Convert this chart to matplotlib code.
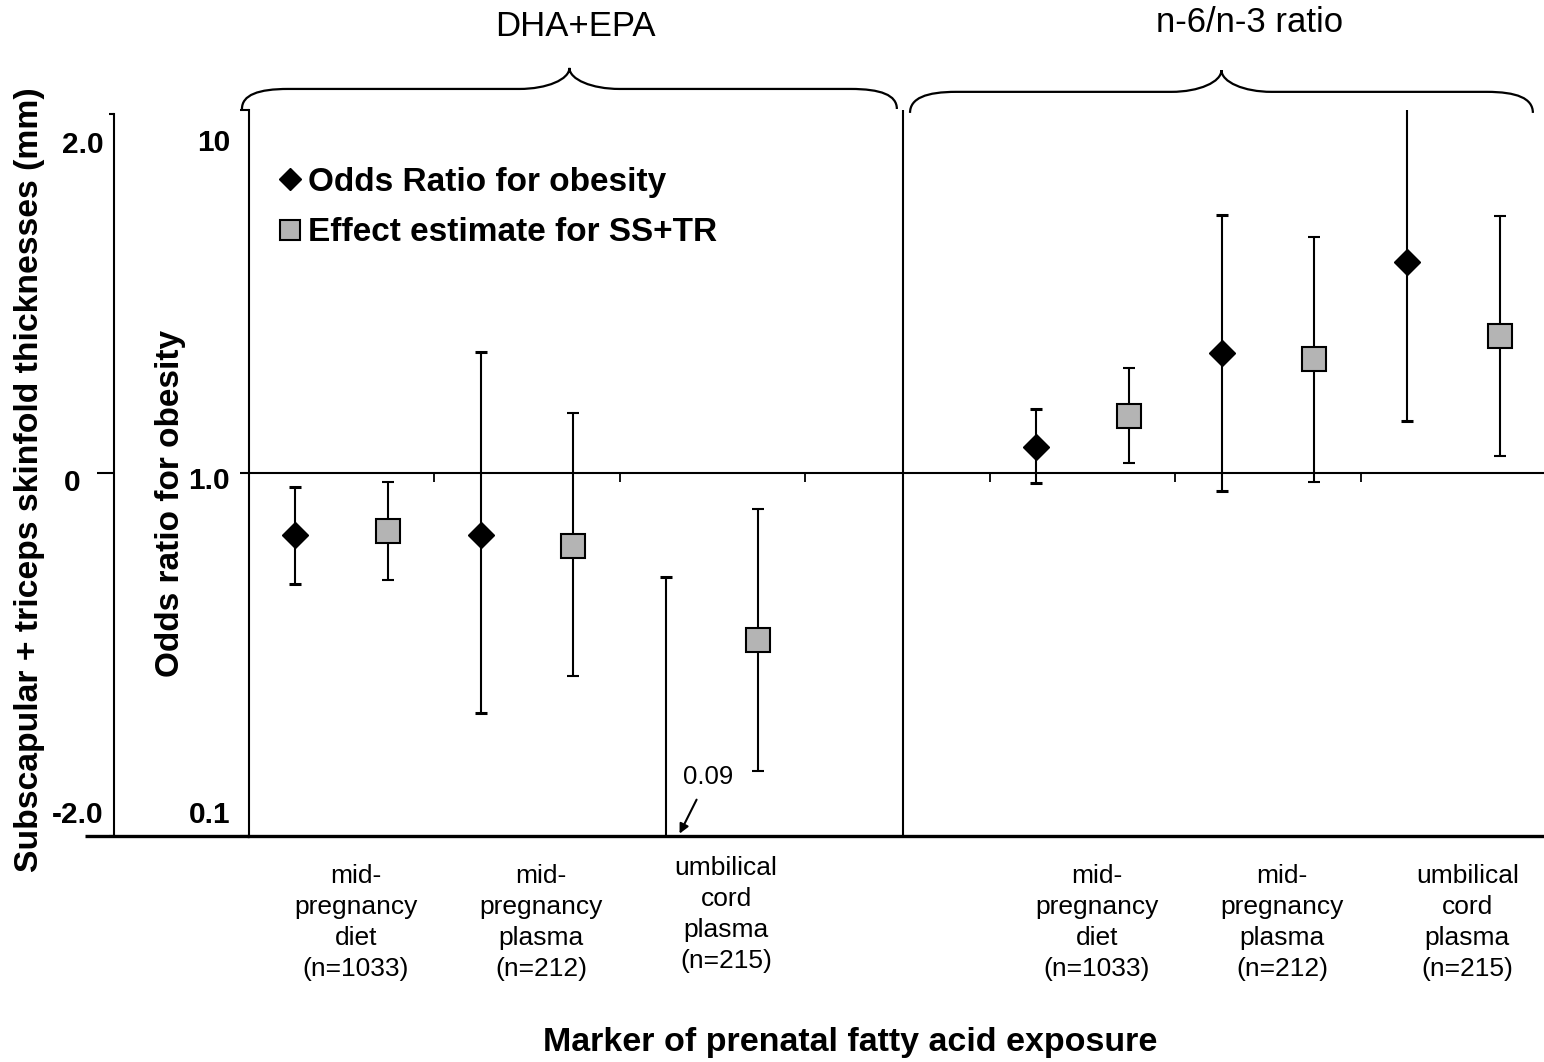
import numpy as np
import matplotlib
matplotlib.use("Agg")
import matplotlib.pyplot as plt
from matplotlib.lines import Line2D
from matplotlib.path import Path
from matplotlib.patches import PathPatch
from matplotlib.transforms import ScaledTranslation, blended_transform_factory
from matplotlib.ticker import NullLocator, NullFormatter

plt.rcParams['font.family'] = ['Liberation Sans', 'DejaVu Sans']

W, H = 1544, 1062

# categories (index 3 is the empty gap between the two groups)
cat_labels = [
    "mid-\npregnancy\ndiet\n(n=1033)",
    "mid-\npregnancy\nplasma\n(n=212)",
    "umbilical\ncord\nplasma\n(n=215)",
    "",
    "mid-\npregnancy\ndiet\n(n=1033)",
    "mid-\npregnancy\nplasma\n(n=212)",
    "umbilical\ncord\nplasma\n(n=215)",
]
group_names = ["DHA+EPA", "n-6/n-3 ratio"]
data_cats = np.array([0, 1, 2, 4, 5, 6])

# odds ratio for obesity (log axis); nan = point estimate not shown
or_est = np.array([0.675, 0.675, np.nan, 1.18, 2.14, 3.81])
or_lo = np.array([0.495, 0.218, 0.09, 0.939, 0.892, 1.39])
or_hi = np.array([0.915, 2.15, 0.517, 1.50, 5.14, 10.8])

# effect estimate for SS+TR (mm)
ss_est = np.array([-0.32, -0.40, -0.92, 0.314, 0.628, 0.755])
ss_lo = np.array([-0.59, -1.12, -1.64, 0.055, -0.05, 0.094])
ss_hi = np.array([-0.05, 0.33, -0.20, 0.578, 1.30, 1.416])

BOLD = 24
TICK = 21.5

fig = plt.figure(figsize=(W / 100, H / 100), dpi=100)
ax = fig.add_axes([249 / W, 1 - 836 / H, (W - 249) / W, (836 - 110) / H])


def px(dx, dy):
    # offset in pixels, dy positive downward
    return ScaledTranslation(dx / 100, -dy / 100, fig.dpi_scale_trans)


# odds ratio series
x_or = data_cats - 0.25
ax.errorbar(x_or, or_hi, yerr=[or_hi - or_lo, np.zeros_like(or_hi)], fmt='none',
            ecolor='black', elinewidth=1.5, capsize=4.5, capthick=2.2)
ax.plot(x_or, or_est, 'D', color='black', markersize=13, ls='none')

ax.set_yscale('log')
ax.set_ylim(0.1, 10)
ax.set_xlim(-0.5, 6.49)
ax.yaxis.set_minor_locator(NullLocator())
ax.yaxis.set_minor_formatter(NullFormatter())
ax.set_yticks([0.1, 1, 10])
ax.set_yticklabels(['0.1', '1.0', '10'])
ax.tick_params(axis='y', direction='out', length=6.5, width=1.5, pad=7,
               labelsize=TICK)

ax.set_xticks(range(len(cat_labels)))
ax.set_xticklabels(cat_labels)
ax.tick_params(axis='x', which='major', length=0, pad=20, top=False, bottom=True,
               labelsize=19)
ax.set_xticks([0.5, 1.5, 2.5, 3.5, 4.5, 5.5], minor=True)
ax.tick_params(axis='x', which='minor', bottom=False, top=True, direction='in',
               length=6.5, width=1.3)

ax.spines['right'].set_visible(False)
ax.spines['top'].set_position(('data', 1.0))
ax.spines['top'].set_linewidth(1.5)
ax.spines['left'].set_linewidth(1.5)
ax.spines['bottom'].set_linewidth(2.4)
ax.plot([(85 - 249) / (W - 249), 0], [0, 0], color='black', lw=2.4,
        transform=ax.transAxes, clip_on=False, solid_capstyle='butt')

# divider between the two groups
ax.axvline(3.03, color='black', lw=1.5)

# skinfold effect axis
ax_ss = ax.twinx()
x_ss = data_cats + 0.25
ax_ss.errorbar(x_ss, ss_est, yerr=[ss_est - ss_lo, ss_hi - ss_est], fmt='s',
               markersize=17, mfc='#b4b4b4', mec='black', mew=1.5,
               ecolor='black', elinewidth=1.5, capsize=4.5, capthick=2.2)
ax_ss.set_ylim(-2, 2)
for s in ['top', 'right', 'bottom']:
    ax_ss.spines[s].set_visible(False)
ax_ss.spines['left'].set_visible(True)
ax_ss.spines['left'].set_position(('axes', -135 / (W - 249)))
ax_ss.spines['left'].set_linewidth(1.5)
ax_ss.spines['left'].set_bounds(-2, 1.978)
ax_ss.yaxis.set_ticks_position('left')
ax_ss.set_yticks([-2, 0, 1.978])
ax_ss.set_yticklabels(['-2.0', '0', '2.0'])
ax_ss.tick_params(axis='y', direction='out', length=3.5, width=1.5, pad=4,
                  labelsize=TICK)
ax_ss.yaxis.get_major_ticks()[1].tick1line.set_markersize(12)


# curly braces above the groups
def brace(x0, x1, y0, y1, y2, r=0.25, r2=0.27):
    xm = (x0 + x1) / 2
    verts = [
        (x0, y0), (x0, y1 - 0.3 * (y1 - y0)), (x0 + 0.35 * r, y1), (x0 + r, y1),
        (xm - r2, y1),
        (xm - 0.45 * r2, y1), (xm, y1 + 0.45 * (y2 - y1)), (xm, y2),
        (xm, y1 + 0.45 * (y2 - y1)), (xm + 0.45 * r2, y1), (xm + r2, y1),
        (x1 - r, y1),
        (x1 - 0.35 * r, y1), (x1, y1 - 0.3 * (y1 - y0)), (x1, y0),
    ]
    codes = [Path.MOVETO] + [Path.CURVE4] * 3 + [Path.LINETO] + [Path.CURVE4] * 6 \
        + [Path.LINETO] + [Path.CURVE4] * 3
    trans = blended_transform_factory(ax.transData, ax.transAxes)
    ax.add_patch(PathPatch(Path(verts, codes), fc='none', ec='black', lw=1.6,
                           transform=trans, clip_on=False))


brace(-0.538, 2.997, 1.0014, 1.029, 1.058)
brace(3.068, 6.43, 0.996, 1.025, 1.055)

fig.text(575 / W, 1 - 27 / H, group_names[0], ha='center', va='center', fontsize=25)
fig.text(1250 / W, 1 - 22 / H, group_names[1], ha='center', va='center', fontsize=25)

# truncated lower limit note
ax.annotate("0.09", xy=(1.824, 0.1015), xytext=(1.976, 0.145),
            textcoords='data', ha='center', va='center', fontsize=18.5,
            arrowprops=dict(arrowstyle='-|>', color='black', lw=1.5,
                            mutation_scale=14, shrinkA=6, shrinkB=0),
            annotation_clip=False)

# legend
handles = [
    Line2D([], [], marker='D', color='black', ls='none', markersize=11.5),
    Line2D([], [], marker='s', mfc='#b4b4b4', mec='black', mew=1.5, ls='none',
           markersize=15),
]
leg = fig.legend(handles, ["Odds Ratio for obesity", "Effect estimate for SS+TR"],
                 loc='upper left', bbox_to_anchor=(278 / W, 1 - 167 / H),
                 frameon=False, borderpad=0, borderaxespad=0, handlelength=0.7,
                 handletextpad=0.2, labelspacing=0.58,
                 prop={'size': BOLD, 'weight': 'bold'})

fig.text(30 / W, 1 - 480 / H, "Subscapular + triceps skinfold thicknesses (mm)",
         rotation=90, ha='center', va='center', fontsize=BOLD + 0.3, fontweight='bold')
fig.text(170 / W, 1 - 503 / H, "Odds ratio for obesity", rotation=90,
         ha='center', va='center', fontsize=BOLD, fontweight='bold')
fig.text(850 / W, 1 - 1043 / H, "Marker of prenatal fatty acid exposure",
         ha='center', va='center', fontsize=BOLD + 0.5, fontweight='bold')

# final tick label styling (after all tick_params calls)
for lab, dy in zip(ax.get_yticklabels(), [-24, 5, 30]):
    lab.set_fontweight('bold')
    lab.set_transform(lab.get_transform() + px(0, dy))
for lab, (dx, dy) in zip(ax_ss.get_yticklabels(), [(0, -24), (-23, 7), (0, 28)]):
    lab.set_fontweight('bold')
    lab.set_transform(lab.get_transform() + px(dx, dy))
for i, lab in enumerate(ax.get_xticklabels()):
    lab.set_fontsize(19)
    lab.set_linespacing(1.38)
    lab.set_transform(lab.get_transform() + px(14, -8 if i == 2 else 0))

fig.savefig("out.png", dpi=100)
